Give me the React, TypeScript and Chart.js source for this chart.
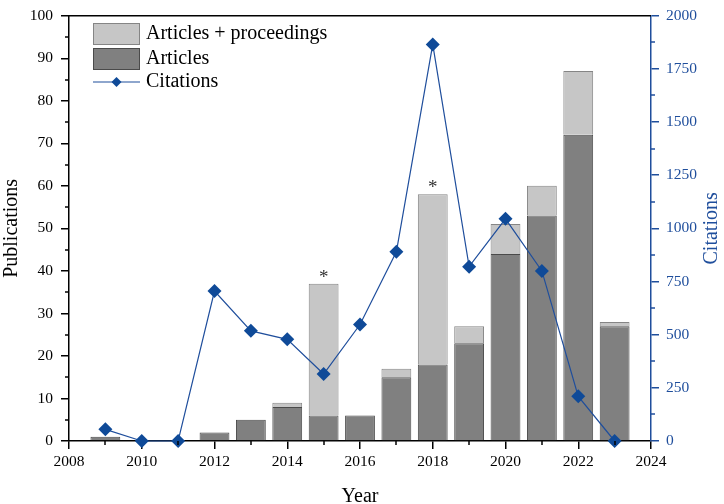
import React, { useEffect, useRef } from "react";
import { Chart, registerables } from "chart.js";

Chart.register(...registerables);

// ---- data ----
const years = [2009, 2010, 2011, 2012, 2013, 2014, 2015, 2016, 2017, 2018, 2019, 2020, 2021, 2022, 2023];
const articles = [1, 0, 0, 2, 5, 8, 6, 6, 15, 18, 23, 44, 53, 72, 27];
const articlesPlusProceedings = [1, 0, 0, 2, 5, 9, 37, 6, 17, 58, 27, 51, 60, 87, 28];
const citations = [55, 0, 0, 705, 518, 478, 315, 548, 890, 1865, 820, 1045, 800, 210, 0];
const starredYears = [2015, 2018];

const xMin = 2008;
const xMax = 2024;
const xMajorStep = 2;
const pubMax = 100;
const pubStep = 10;
const citMax = 2000;
const citStep = 250;
const citTitle = "Citations";

const FONT = "'Liberation Serif', 'Times New Roman', serif";
const BLUE = "#1f4e9c";
const MARKER = "#0f4a98";
const DARK_FILL = "#808080";
const DARK_BORDER = "#4a4a4a";
const LIGHT_FILL = "#c6c6c6";
const LIGHT_BORDER = "#858585";

const overlayPlugin = {
  id: "overlay",
  afterDraw(chart: any) {
    const { ctx, chartArea, scales } = chart;
    const x = scales.x;
    const y = scales.y;
    const y1 = scales.y1;
    ctx.save();
    // top frame line
    ctx.strokeStyle = "#000";
    ctx.lineWidth = 1.5;
    ctx.beginPath();
    ctx.moveTo(chartArea.left, chartArea.top);
    ctx.lineTo(chartArea.right, chartArea.top);
    ctx.stroke();

    // minor ticks
    const minorLen = 4;
    ctx.lineWidth = 1.5;
    ctx.strokeStyle = "#000";
    for (let v = xMin + xMajorStep / 2; v < xMax; v += xMajorStep) {
      const px = Math.round(x.getPixelForValue(v));
      ctx.beginPath();
      ctx.moveTo(px, chartArea.bottom);
      ctx.lineTo(px, chartArea.bottom + minorLen);
      ctx.stroke();
    }
    for (let v = pubStep / 2; v < pubMax; v += pubStep) {
      const py = Math.round(y.getPixelForValue(v));
      ctx.beginPath();
      ctx.moveTo(chartArea.left, py);
      ctx.lineTo(chartArea.left - minorLen, py);
      ctx.stroke();
    }
    ctx.strokeStyle = BLUE;
    for (let v = citStep / 2; v < citMax; v += citStep) {
      const py = Math.round(y1.getPixelForValue(v));
      ctx.beginPath();
      ctx.moveTo(chartArea.right, py);
      ctx.lineTo(chartArea.right + minorLen, py);
      ctx.stroke();
    }

    // right axis title, reading bottom-to-top
    ctx.save();
    ctx.translate(y1.right - 12, (chartArea.top + chartArea.bottom) / 2);
    ctx.rotate(-Math.PI / 2);
    ctx.fillStyle = BLUE;
    ctx.font = `20px ${FONT}`;
    ctx.textAlign = "center";
    ctx.textBaseline = "middle";
    ctx.fillText(citTitle, 0, 0);
    ctx.restore();

    // asterisks above highlighted bars
    ctx.fillStyle = "#333";
    ctx.font = `19px ${FONT}`;
    ctx.textAlign = "center";
    ctx.textBaseline = "alphabetic";
    for (const yr of starredYears) {
      const i = years.indexOf(yr);
      const px = x.getPixelForValue(yr);
      const py = y.getPixelForValue(articlesPlusProceedings[i]);
      ctx.fillText("*", px, py - 1);
    }

    // legend
    const lx = chartArea.left + 24;
    const bw = 47;
    const bh = 22;
    const tx = lx + bw + 6;
    const items = [
      { type: "box", fill: LIGHT_FILL, stroke: LIGHT_BORDER, label: chart.data.datasets[1].label, top: 23 },
      { type: "box", fill: DARK_FILL, stroke: DARK_BORDER, label: chart.data.datasets[0].label, top: 48 },
      { type: "line", label: chart.data.datasets[2].label, top: 71 },
    ];
    ctx.font = `20px ${FONT}`;
    ctx.textAlign = "left";
    ctx.textBaseline = "middle";
    for (const it of items) {
      const cy = it.top + bh / 2;
      if (it.type === "box") {
        ctx.fillStyle = it.fill as string;
        ctx.fillRect(lx, it.top, bw, bh);
        ctx.strokeStyle = it.stroke as string;
        ctx.lineWidth = 1;
        ctx.strokeRect(lx + 0.5, it.top + 0.5, bw - 1, bh - 1);
      } else {
        ctx.strokeStyle = BLUE;
        ctx.lineWidth = 1.2;
        ctx.beginPath();
        ctx.moveTo(lx, cy);
        ctx.lineTo(lx + bw, cy);
        ctx.stroke();
        const r = 5;
        const mx = lx + bw / 2;
        ctx.fillStyle = MARKER;
        ctx.beginPath();
        ctx.moveTo(mx, cy - r);
        ctx.lineTo(mx + r, cy);
        ctx.lineTo(mx, cy + r);
        ctx.lineTo(mx - r, cy);
        ctx.closePath();
        ctx.fill();
      }
      ctx.fillStyle = "#000";
      ctx.fillText(it.label, tx, cy);
    }
    ctx.restore();
  },
};

export default function App() {
  const canvasRef = useRef<HTMLCanvasElement | null>(null);

  useEffect(() => {
    if (!canvasRef.current) return;
    const nz = (v: number) => (v === 0 ? null : v);
    const darkData = years.map((yr, i) => ({ x: yr, y: nz(articles[i]) }));
    const lightData = years.map((yr, i) => ({ x: yr, y: nz(articlesPlusProceedings[i] - articles[i]) }));
    const citData = years.map((yr, i) => ({ x: yr, y: citations[i] }));

    const tickFont = { family: FONT, size: 15.5, lineHeight: 1 };
    const titleFont = { family: FONT, size: 20, lineHeight: 1.2 };

    const chart = new Chart(canvasRef.current, {
      type: "bar",
      data: {
        datasets: [
          {
            type: "bar",
            label: "Articles",
            data: darkData as any,
            backgroundColor: DARK_FILL,
            borderColor: DARK_BORDER,
            borderWidth: 1,
            stack: "pubs",
            order: 2,
            barPercentage: 0.82,
            categoryPercentage: 1,
            yAxisID: "y",
          },
          {
            type: "bar",
            label: "Articles + proceedings",
            data: lightData as any,
            backgroundColor: LIGHT_FILL,
            borderColor: LIGHT_BORDER,
            borderWidth: 1,
            stack: "pubs",
            order: 2,
            barPercentage: 0.82,
            categoryPercentage: 1,
            yAxisID: "y",
          },
          {
            type: "line",
            label: "Citations",
            data: citData as any,
            borderColor: BLUE,
            borderWidth: 1.2,
            backgroundColor: MARKER,
            pointBackgroundColor: MARKER,
            pointBorderColor: MARKER,
            pointStyle: "rectRot",
            pointRadius: 7,
            pointBorderWidth: 0,
            tension: 0,
            clip: false as any,
            order: 1,
            yAxisID: "y1",
          },
        ],
      },
      options: {
        responsive: false,
        animation: false,
        events: [],
        layout: { padding: { top: 0, left: 0, right: 0, bottom: 0 } },
        plugins: {
          legend: { display: false },
          tooltip: { enabled: false },
          title: { display: false },
        },
        scales: {
          x: {
            type: "linear",
            min: xMin,
            max: xMax,
            offset: false,
            stacked: true,
            afterFit: (s: any) => {
              s.height = 63;
            },
            ticks: {
              stepSize: xMajorStep,
              color: "#000",
              font: tickFont,
              padding: 5,
              maxRotation: 0,
              autoSkip: false,
              callback: (v: any) => String(v),
            },
            grid: {
              offset: false,
              drawOnChartArea: false,
              drawTicks: true,
              tickLength: 8,
              color: "#000",
              lineWidth: 1.5,
            },
            border: { display: true, color: "#000", width: 1.5 },
            title: {
              display: true,
              text: "Year",
              color: "#000",
              font: { family: FONT, size: 20, lineHeight: 1 },
              padding: { top: 0, bottom: -3 },
            },
          },
          y: {
            type: "linear",
            position: "left",
            min: 0,
            max: pubMax,
            stacked: true,
            afterFit: (s: any) => {
              s.width = 69;
            },
            ticks: {
              stepSize: pubStep,
              color: "#000",
              font: tickFont,
              padding: 8,
              callback: (v: any) => String(v),
            },
            grid: {
              drawOnChartArea: false,
              drawTicks: true,
              tickLength: 8,
              color: "#000",
              lineWidth: 1.5,
            },
            border: { display: true, color: "#000", width: 1.5 },
            title: {
              display: true,
              text: "Publications",
              color: "#000",
              font: titleFont,
              padding: { top: 0, bottom: 0 },
            },
          },
          y1: {
            type: "linear",
            position: "right",
            min: 0,
            max: citMax,
            afterFit: (s: any) => {
              s.width = 73;
            },
            ticks: {
              stepSize: citStep,
              color: BLUE,
              font: tickFont,
              padding: 7,
              callback: (v: any) => String(v),
            },
            grid: {
              drawOnChartArea: false,
              drawTicks: true,
              tickLength: 8,
              color: BLUE,
              lineWidth: 1.5,
            },
            border: { display: true, color: BLUE, width: 1.5 },
            title: { display: false },
          },
        },
      } as any,
      plugins: [overlayPlugin],
    });
    return () => chart.destroy();
  }, []);

  return (
    <div style={{ position: "absolute", left: 0, top: 0, width: 724, height: 504, background: "#fff" }}>
      <canvas ref={canvasRef} width={724} height={504} style={{ display: "block" }} />
    </div>
  );
}
